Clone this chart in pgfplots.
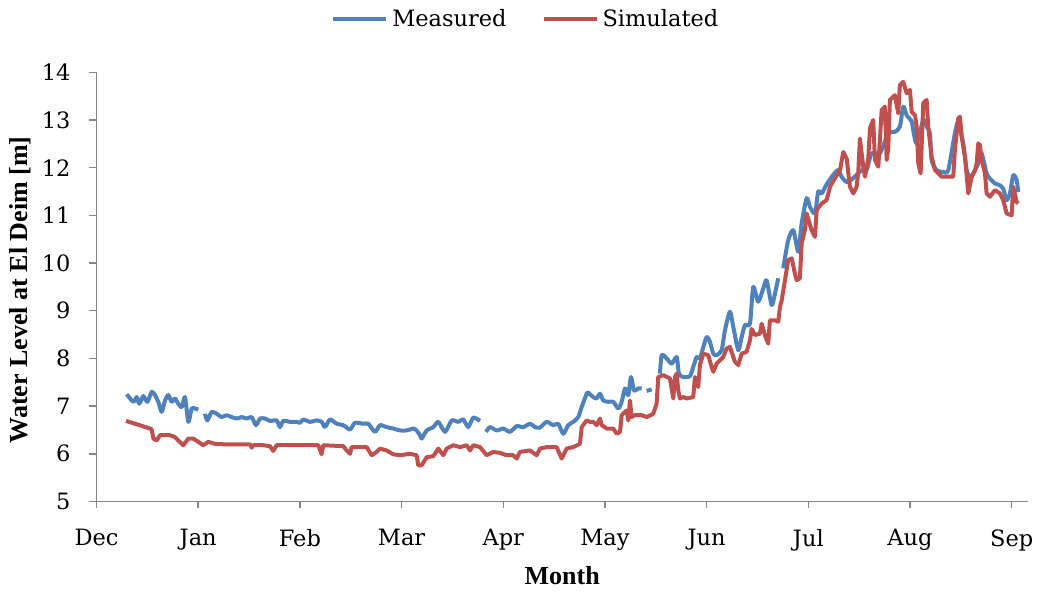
\documentclass[border=0pt]{standalone}
\usepackage{fontspec}
\setmainfont{DejaVu Serif}
\newfontfamily\titlefont{Liberation Serif}
\usepackage{pgfplots}
\pgfplotsset{compat=1.18}
\definecolor{meas}{HTML}{4F81BD}
\definecolor{sim}{HTML}{C0504D}
\definecolor{axgray}{HTML}{868686}
\begin{document}
\begin{tikzpicture}
\begin{axis}[
  scale only axis,
  width=465.75pt, height=214.6pt,
  xmin=0, xmax=9.16, ymin=5, ymax=14,
  axis lines*=left,
  axis line style={draw=axgray, line width=0.75pt},
  every tick/.style={draw=axgray, line width=0.75pt},
  tick align=outside,
  major tick length=3.5pt,
  xtick={0,1,2,3,4,5,6,7,8,9},
  xticklabels={Dec,Jan,Feb,Mar,Apr,May,Jun,Jul,Aug,Sep},
  ytick={5,6,7,8,9,10,11,12,13,14},
  /pgf/number format/assume math mode=true,
  tick label style={font=\fontsize{11.25}{13}\selectfont, text=black},
  xticklabel style={yshift=-7pt},
  yticklabel style={xshift=-6pt},
  unbounded coords=jump,
  xlabel={Month},
  ylabel={Water Level at El Deim [m]},
  every axis x label/.style={at={(axis description cs:0.5,-0.1736)}, anchor=center, font=\titlefont\bfseries\fontsize{13}{15}\selectfont},
  every axis y label/.style={at={(axis description cs:-0.0822,0.493)}, anchor=center, rotate=90, font=\titlefont\bfseries\fontsize{13}{15}\selectfont},
  legend style={at={(axis description cs:0.462,1.1235)}, anchor=center, draw=none, fill=none,
    font=\fontsize{11.25}{13}\selectfont, legend columns=2,
    /tikz/every even column/.append style={column sep=15.5pt}},
  legend image code/.code={\draw[#1] (0cm,0cm) -- (0.93cm,0cm);},
]
\addplot[meas, line width=2pt, line join=round, smooth, tension=0.4] coordinates {
(0.297,7.25)(0.362,7.09)(0.395,7.19)(0.421,7.05)(0.460,7.21)(0.500,7.09)(0.543,7.30)(0.575,7.23)(0.608,7.09)(0.641,6.88)(0.674,7.12)(0.706,7.23)(0.739,7.09)(0.772,7.16)(0.804,7.05)(0.838,6.98)(0.870,7.19)(0.903,6.67)(0.936,6.95)(0.969,6.95)(1.001,6.93)
(1.03,nan)
(1.067,6.84)(1.090,6.70)(1.133,6.88)(1.182,6.84)(1.231,6.77)(1.280,6.81)(1.329,6.77)(1.379,6.74)(1.428,6.77)(1.477,6.74)(1.526,6.77)(1.568,6.60)(1.608,6.74)(1.657,6.74)(1.706,6.69)(1.772,6.70)(1.804,6.56)(1.837,6.69)(1.903,6.67)(1.968,6.67)(2.001,6.65)(2.034,6.72)(2.099,6.67)(2.165,6.70)(2.214,6.67)(2.247,6.56)(2.296,6.72)(2.362,6.63)(2.427,6.60)(2.493,6.51)(2.542,6.65)(2.623,6.63)(2.673,6.63)(2.738,6.46)(2.788,6.60)(2.853,6.56)(2.918,6.53)(2.984,6.49)(3.050,6.49)(3.115,6.53)(3.148,6.49)(3.181,6.39)(3.198,6.32)(3.247,6.49)(3.312,6.56)(3.361,6.67)(3.427,6.46)(3.493,6.70)(3.558,6.67)(3.607,6.72)(3.656,6.56)(3.705,6.76)(3.771,6.69)
(3.80,nan)
(3.830,6.46)(3.869,6.56)(3.935,6.49)(4.000,6.53)(4.066,6.46)(4.132,6.58)(4.197,6.56)(4.263,6.63)(4.312,6.56)(4.361,6.55)(4.427,6.67)(4.492,6.60)(4.541,6.63)(4.590,6.42)(4.639,6.60)(4.688,6.67)(4.737,6.77)(4.771,6.98)(4.820,7.26)(4.836,7.28)(4.885,7.19)(4.918,7.16)(4.951,7.26)(4.983,7.12)(5.032,7.09)(5.082,7.09)(5.131,6.95)(5.164,7.09)(5.197,7.37)(5.229,7.23)(5.256,7.61)(5.285,7.33)(5.327,7.37)(5.361,7.37)
(5.385,nan)
(5.410,7.32)(5.459,7.35)
(5.50,nan)
(5.541,7.68)(5.558,8.07)(5.607,8.00)(5.656,7.89)(5.705,8.03)(5.728,7.68)(5.770,7.61)(5.836,7.63)(5.868,7.82)(5.902,8.03)(5.934,8.00)(5.967,8.24)(6.000,8.45)(6.032,8.35)(6.065,8.10)(6.098,8.07)(6.147,8.17)(6.180,8.59)(6.229,8.98)(6.262,8.66)(6.311,8.17)(6.344,8.45)(6.377,8.70)(6.426,8.73)(6.458,9.50)(6.507,9.19)(6.557,9.47)(6.590,9.64)(6.639,9.12)(6.672,9.36)(6.704,9.68)
(6.73,nan)
(6.753,9.89)(6.802,10.48)(6.852,10.69)(6.901,10.24)(6.934,10.83)(6.983,11.36)(7.016,11.18)(7.065,11.04)(7.097,11.50)(7.131,11.46)(7.180,11.65)(7.245,11.85)(7.294,11.95)(7.327,11.81)(7.377,11.70)(7.442,11.78)(7.524,11.95)(7.573,11.95)(7.622,12.30)(7.704,12.30)(7.786,12.72)(7.851,12.75)(7.900,12.86)(7.933,13.28)(7.967,13.10)(8.016,12.97)(8.031,12.79)(8.064,12.51)(8.130,13.00)(8.163,12.86)(8.196,12.72)(8.212,12.16)(8.261,11.95)(8.327,11.91)(8.376,11.95)(8.441,12.72)(8.474,12.96)(8.523,12.51)(8.557,11.95)(8.589,11.81)(8.622,11.88)(8.671,12.09)(8.704,12.30)(8.753,11.88)(8.786,11.77)(8.835,11.67)(8.884,11.63)(8.916,11.56)(8.950,11.32)(8.982,11.46)(9.015,11.84)(9.048,11.74)(9.064,11.49)
};
\addlegendentry{Measured}
\addplot[sim, line width=2pt, line join=round] coordinates {
(0.290,6.69)(0.395,6.62)(0.526,6.53)(0.543,6.51)(0.559,6.32)(0.592,6.28)(0.624,6.39)(0.723,6.39)(0.772,6.35)(0.804,6.28)(0.853,6.18)(0.903,6.32)(0.952,6.32)(1.001,6.25)(1.050,6.18)(1.099,6.25)(1.165,6.21)(1.247,6.20)(1.379,6.20)(1.509,6.20)(1.526,6.13)(1.542,6.18)(1.640,6.18)(1.706,6.16)(1.738,6.06)(1.772,6.18)(1.903,6.18)(2.099,6.18)(2.181,6.18)(2.214,5.99)(2.230,6.18)(2.427,6.16)(2.460,6.07)(2.493,6.00)(2.509,6.14)(2.657,6.14)(2.706,5.97)(2.755,6.04)(2.788,6.11)(2.853,6.07)(2.918,5.99)(2.984,5.97)(3.083,6.00)(3.148,5.97)(3.164,5.76)(3.198,5.76)(3.247,5.93)(3.312,5.95)(3.361,6.11)(3.410,5.97)(3.443,6.11)(3.509,6.18)(3.574,6.14)(3.640,6.18)(3.673,6.07)(3.705,6.18)(3.771,6.14)(3.837,5.97)(3.902,6.04)(3.968,6.02)(4.033,5.97)(4.098,5.97)(4.132,5.90)(4.164,6.04)(4.263,6.07)(4.328,5.97)(4.361,6.11)(4.427,6.14)(4.525,6.14)(4.574,5.90)(4.623,6.11)(4.688,6.14)(4.754,6.21)(4.771,6.56)(4.820,6.70)(4.853,6.67)(4.885,6.67)(4.918,6.60)(4.951,6.74)(4.968,6.60)(5.017,6.53)(5.082,6.53)(5.115,6.42)(5.148,6.46)(5.164,6.81)(5.213,6.91)(5.229,6.70)(5.246,7.12)(5.262,6.77)(5.295,6.81)(5.361,6.81)(5.410,6.77)(5.475,6.84)(5.508,7.05)(5.524,7.61)(5.573,7.65)(5.639,7.58)(5.672,7.16)(5.688,7.61)(5.705,7.68)(5.721,7.33)(5.737,7.16)(5.770,7.19)(5.803,7.16)(5.868,7.19)(5.885,7.61)(5.917,7.40)(5.934,7.86)(5.967,8.10)(6.016,8.07)(6.049,7.82)(6.065,7.72)(6.098,7.89)(6.131,7.96)(6.163,8.03)(6.197,8.21)(6.229,8.24)(6.278,7.93)(6.311,7.86)(6.344,8.10)(6.393,8.14)(6.426,8.38)(6.442,8.62)(6.475,8.49)(6.524,8.52)(6.541,8.73)(6.573,8.49)(6.606,8.31)(6.622,8.80)(6.672,8.80)(6.704,8.77)(6.721,9.08)(6.738,9.22)(6.770,9.64)(6.802,10.06)(6.836,10.10)(6.868,9.78)(6.885,9.64)(6.917,9.68)(6.934,10.41)(6.966,10.69)(6.983,11.04)(7.032,10.69)(7.065,10.55)(7.082,11.11)(7.131,11.25)(7.180,11.32)(7.213,11.60)(7.262,11.78)(7.311,11.95)(7.344,12.33)(7.377,12.19)(7.409,11.60)(7.442,11.46)(7.475,11.60)(7.491,11.91)(7.507,12.61)(7.540,12.02)(7.557,11.81)(7.589,12.19)(7.606,12.83)(7.638,13.00)(7.655,12.16)(7.688,12.02)(7.721,13.21)(7.753,13.28)(7.770,12.16)(7.786,12.40)(7.802,13.42)(7.851,13.52)(7.884,13.14)(7.900,13.73)(7.933,13.80)(7.967,13.56)(7.999,13.63)(8.016,13.17)(8.049,13.10)(8.065,12.86)(8.081,12.09)(8.104,11.88)(8.130,13.35)(8.163,13.42)(8.179,12.86)(8.212,12.23)(8.245,11.95)(8.311,11.81)(8.425,11.81)(8.441,12.37)(8.474,13.03)(8.491,13.07)(8.507,12.65)(8.540,12.23)(8.573,11.46)(8.606,11.81)(8.639,11.95)(8.655,12.09)(8.671,12.51)(8.688,12.47)(8.704,12.16)(8.737,11.88)(8.753,11.46)(8.786,11.39)(8.835,11.53)(8.884,11.46)(8.916,11.32)(8.950,11.04)(8.999,11.00)(9.015,11.60)(9.048,11.28)(9.064,11.25)
};
\addlegendentry{Simulated}
\end{axis}
\pgfresetboundingbox
\path (-48.25pt,-45.25pt) rectangle (470.25pt,250.75pt);
\end{tikzpicture}
\end{document}
